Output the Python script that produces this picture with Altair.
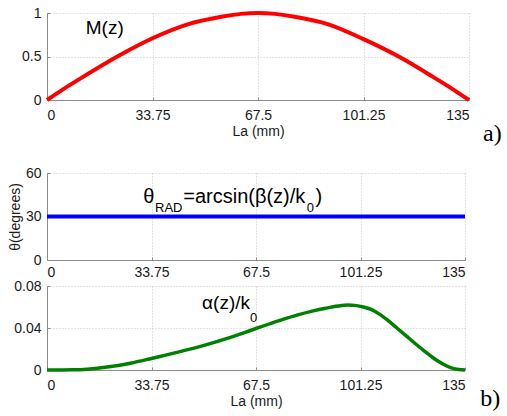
import altair as alt
import pandas as pd

# ---------------- data ----------------
z_m = [0, 5, 11.25, 22.5, 33.75, 45, 56.25, 62, 67.5, 73, 78.75, 90, 101.25, 112.5, 123.75, 130, 135]
m_vals = [0, 0.12, 0.26, 0.5, 0.71, 0.87, 0.96, 0.99, 1.0, 0.99, 0.96, 0.87, 0.70, 0.5, 0.26, 0.12, 0]

z_theta = [0, 135]
theta_vals = [30, 30]

z_a = [0, 8, 13, 20, 27, 33.75, 42, 51, 59, 67.5, 75, 81, 86, 90, 94, 97, 100, 102.5, 105,
       107.5, 110, 113, 116, 119, 122, 125, 128, 130.6, 133, 135]
a_vals = [0, 0.0002, 0.0008, 0.003, 0.0065, 0.011, 0.0168, 0.0237, 0.0308, 0.0395, 0.047,
          0.0525, 0.0563, 0.0588, 0.0609, 0.0619, 0.0613, 0.0598, 0.0573, 0.053, 0.0475, 0.040,
          0.0325, 0.025, 0.0178, 0.011, 0.0055, 0.002, 0.0004, 0]

x_ticks = [0, 33.75, 67.5, 101.25, 135]
m_ticks = [0, 0.5, 1]
theta_ticks = [0, 30, 60]
a_ticks = [0, 0.04, 0.08]

x_title = "La (mm)"
theta_title = "θ(degrees)"

# annotation texts (positions in data units)
m_text = ["M(z)"]
m_text_z = [12.4]
m_text_y = [0.759]

theta_text = ["θ", "RAD", "=arcsin(β(z)/k", "0", ")"]
theta_text_z = [31.1, 34.9, 44.0, 83.9, 86.7]
theta_text_y = [39.5, 33.1, 39.5, 33.1, 39.5]
theta_text_size = [20, 13, 20, 13, 20]

a_text = ["α(z)/k", "0"]
a_text_z = [50.1, 65.6]
a_text_y = [0.058, 0.0457]
a_text_size = [19, 13]

tag_a = ["a)"]
tag_a_z = [139.5]
tag_a_y = [-0.47]
tag_b = ["b)"]
tag_b_z = [139.9]
tag_b_y = [-0.0343]

# ---------------- styling ----------------
FONT = "Liberation Sans"
SERIF = "Liberation Serif"
AX = dict(
    domainColor="#8c8c8c",
    tickColor="#8c8c8c",
    gridColor="#c8c8c8",
    gridDash=[1, 2],
    labelFont=FONT,
    labelFontSize=14,
    labelColor="#1a1a1a",
    titleFont=FONT,
    titleFontSize=14,
    titleFontWeight="normal",
    titleColor="#1a1a1a",
    tickSize={"expr": "-3"},
    labelExpr="'' + datum.value",
)

XS = alt.Scale(domain=[0, 135], nice=False)


def xenc(title, pad):
    kw = dict(values=x_ticks, labelPadding=pad, titlePadding=2, **AX)
    kw["title"] = title
    return alt.X("z:Q", scale=XS, axis=alt.Axis(**kw))


def yenc(field, dom, ticks, title=None):
    kw = dict(values=ticks, labelPadding=9, titlePadding=3, **AX)
    kw["title"] = title
    return alt.Y(field, scale=alt.Scale(domain=dom, nice=False), axis=alt.Axis(**kw))


# ---- panel a) ----
x1 = xenc(x_title, 11)
y1 = yenc("v:Q", [0, 1], m_ticks)
d1 = pd.DataFrame({"z": z_m, "v": m_vals})
l1 = alt.Chart(d1).mark_line(color="#ff0000", strokeWidth=4, interpolate="monotone").encode(x=x1, y=y1)
t1 = alt.Chart(pd.DataFrame({"z": m_text_z, "v": m_text_y, "t": m_text})).mark_text(
    align="left", baseline="alphabetic", font=FONT, fontSize=19, color="black"
).encode(x=x1, y=y1, text="t:N")
g1 = alt.Chart(pd.DataFrame({"z": tag_a_z, "v": tag_a_y, "t": tag_a})).mark_text(
    align="left", baseline="alphabetic", font=SERIF, fontSize=24, color="black"
).encode(x=x1, y=y1, text="t:N")
p1 = alt.layer(l1, t1, g1).properties(width=422, height=87)

# ---- panel b) top ----
x2 = xenc(None, 8)
y2 = yenc("v:Q", [0, 60], theta_ticks, theta_title)
d2 = pd.DataFrame({"z": z_theta, "v": theta_vals})
l2 = alt.Chart(d2).mark_line(color="#0000ff", strokeWidth=4).encode(x=x2, y=y2)
t2 = alt.Chart(pd.DataFrame({"z": theta_text_z, "v": theta_text_y, "t": theta_text, "s": theta_text_size})).mark_text(
    align="left", baseline="alphabetic", font=FONT, color="black"
).encode(x=x2, y=y2, text="t:N", size=alt.Size("s:Q", scale=None, legend=None))
p2 = alt.layer(l2, t2).properties(width=418, height=87)

# ---- panel b) bottom ----
x3 = xenc(x_title, 11)
y3 = yenc("v:Q", [0, 0.08], a_ticks)
d3 = pd.DataFrame({"z": z_a, "v": a_vals})
l3 = alt.Chart(d3).mark_line(color="#008000", strokeWidth=3.5, interpolate="monotone").encode(x=x3, y=y3)
t3 = alt.Chart(pd.DataFrame({"z": a_text_z, "v": a_text_y, "t": a_text, "s": a_text_size})).mark_text(
    align="left", baseline="alphabetic", font=FONT, color="black"
).encode(x=x3, y=y3, text="t:N", size=alt.Size("s:Q", scale=None, legend=None))
g3 = alt.Chart(pd.DataFrame({"z": tag_b_z, "v": tag_b_y, "t": tag_b})).mark_text(
    align="left", baseline="alphabetic", font=SERIF, fontSize=24, color="black"
).encode(x=x3, y=y3, text="t:N")
p3 = alt.layer(l3, t3, g3).properties(width=418, height=84)

inner = alt.vconcat(p2, p3, spacing=26, bounds="flush")
chart = (
    alt.vconcat(p1, inner, spacing=73, bounds="flush")
    .properties(padding={"left": 8, "top": 5, "right": 2, "bottom": 2}, background="white")
    .configure_view(stroke=None)
)

chart.save("out.html", embed_options={"renderer": "svg", "actions": False})
